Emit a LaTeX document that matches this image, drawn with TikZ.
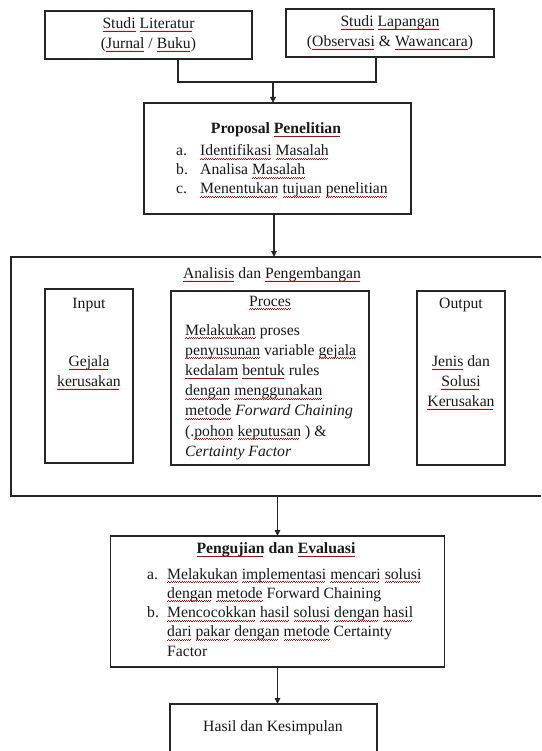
\documentclass[tikz,border=0pt]{standalone}
\usepackage{fontspec}
\setmainfont{Liberation Serif}
\usepackage{xcolor}
\usetikzlibrary{arrows.meta}
\newsavebox\wvbox
\newcommand\wvunit{\hbox{{\color{red!80!black}\rule[-3.9pt]{1.1pt}{1pt}\rule[-3.1pt]{1.1pt}{1pt}}}}
\newcommand\wv[1]{\mbox{\sbox\wvbox{#1}\rlap{\usebox\wvbox}\leaders\wvunit\hskip\wd\wvbox\relax}}
\begin{document}
\begin{tikzpicture}[x=1pt,y=-1pt,
  box/.style={draw=black!85, line width=1.1pt, inner sep=0pt, outer sep=0pt,
    font=\fontsize{15.7}{20}\selectfont, align=center, text=black!90},
  txt/.style={inner sep=0pt, font=\fontsize{15.7}{20}\selectfont, align=center, text=black!90},
  ln/.style={draw=black!85, line width=1.1pt},
  arr/.style={draw=black!85, line width=1.1pt, -{Triangle[length=6pt,width=5.5pt]}}]
\useasboundingbox[fill=white] (0,0) rectangle (541,751);
\clip (0,0) rectangle (541,751);

% top boxes
\node[box, minimum width=207pt, minimum height=48pt] (lit) at (148.5,35)
  {\wv{Studi} \wv{Literatur}\\(\wv{Jurnal} / \wv{Buku})};
\node[box, minimum width=208pt, minimum height=48pt] (lap) at (390,33)
  {\wv{Studi} \wv{Lapangan}\\(\wv{Observasi} \& \wv{Wawancara})};
\coordinate (j) at (273,82);
\draw[ln] ([xshift=29.5pt]lit.south) |- (j) -| ([xshift=-14pt]lap.south);

% proposal
\node[box, minimum width=267pt, minimum height=111pt] (prop) at (277.5,158.5) {};
\node[txt] (propt) at (276,130) {\bfseries Proposal \wv{Penelitian}};
\node[txt, anchor=base west, font=\fontsize{15.7}{19}\selectfont] (propl) at (176,156)
  {\begin{tabular}[t]{@{}p{24pt}@{}l@{}}
   a. & \wv{Identifikasi} \wv{Masalah}\\
   b. & Analisa \wv{Masalah}\\
   c. & \wv{Menentukan} \wv{tujuan} \wv{penelitian}
   \end{tabular}};
\draw[arr] (j) -- (j |- prop.north);

% analisis
\node[box, minimum width=537pt, minimum height=239pt] (ana) at (279.5,376.5) {};
\node[txt] (anat) at (272,275) {\wv{Analisis} dan \wv{Pengembangan}};
\draw[arr] ([xshift=-3.5pt]prop.south) -- ([xshift=-3.5pt]prop.south |- ana.north);

\node[box, minimum width=88pt, minimum height=174pt] (inp) at (89,376) {};
\node[txt] (inpt) at (89,305) {Input};
\node[txt] (inpb) at (89,373) {\wv{Gejala}\\\wv{kerusakan}};

\node[box, minimum width=198pt, minimum height=174pt] (pro) at (270,378) {};
\node[txt] (prot) at (270,303) {\wv{Proces}};
\node[txt, anchor=base west, font=\fontsize{15.7}{20.2}\selectfont] (prob) at (185,335)
  {\begin{tabular}[t]{@{}l@{}}
   \wv{Melakukan} proses\\
   \wv{penyusunan} variable \wv{gejala}\\
   \wv{kedalam} \wv{bentuk} rules\\
   \wv{dengan} \wv{menggunakan}\\
   \wv{metode} \textit{Forward Chaining}\\
   (.\wv{pohon} \wv{keputusan} ) \&\\
   \textit{Certainty Factor}
   \end{tabular}};

\node[box, minimum width=88pt, minimum height=174pt] (out) at (461,378) {};
\node[txt] (outt) at (461,305) {Output};
\node[txt] (outb) at (461,383) {\wv{Jenis} dan\\\wv{Solusi}\\\wv{Kerusakan}};

% pengujian
\node[box, minimum width=334pt, minimum height=131pt] (peng) at (277.5,601.5) {};
\node[txt] (pengt) at (276,550) {\bfseries \wv{Pengujian} dan \wv{Evaluasi}};
\node[txt, anchor=base west, font=\fontsize{15.7}{19.3}\selectfont] (pengl) at (147,579)
  {\begin{tabular}[t]{@{}p{20pt}@{}l@{}}
   a. & \wv{Melakukan} \wv{implementasi} \wv{mencari} \wv{solusi}\\
      & \wv{dengan} \wv{metode} Forward Chaining\\
   b. & \wv{Mencocokkan} \wv{hasil} \wv{solusi} \wv{dengan} \wv{hasil}\\
      & \wv{dari} \wv{pakar} \wv{dengan} \wv{metode} Certainty\\
      & Factor
   \end{tabular}};
\draw[arr] (ana.south -| peng.north) -- (peng.north);

% hasil
\node[box, minimum width=207pt, minimum height=62pt] (has) at (273.5,735) {};
\node[txt] (hast) at (273,728) {Hasil dan Kesimpulan};
\draw[arr] (peng.south) -- (peng.south |- has.north);
\end{tikzpicture}
\end{document}
